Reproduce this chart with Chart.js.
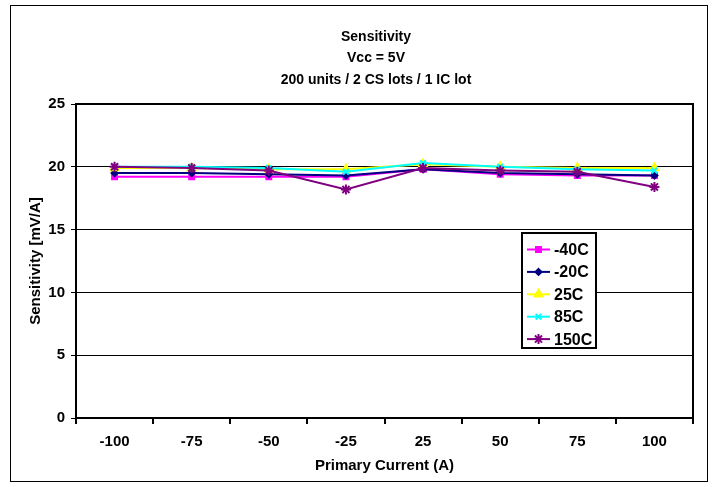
<!DOCTYPE html>
<html>
<head>
<meta charset="utf-8">
<script src="https://cdn.jsdelivr.net/npm/chart.js@4.4.0/dist/chart.umd.min.js"></script>
<style>
  html, body { margin: 0; padding: 0; background: #fff; }
</style>
</head>
<body>
<canvas id="sensChart" width="716" height="487"></canvas>
<script>
// Chart data
const categories = ['-100', '-75', '-50', '-25', '25', '50', '75', '100'];
const titleLines = ['Sensitivity', 'Vcc = 5V', '200 units / 2 CS lots / 1 IC lot'];
const yTicks = [0, 5, 10, 15, 20, 25];

const minus40C = [19.2, 19.2, 19.2, 19.2, 19.8, 19.4, 19.3, 19.3];
const minus20C = [19.5, 19.5, 19.4, 19.3, 19.8, 19.5, 19.4, 19.3];
const plus25C  = [19.9, 19.9, 19.8, 19.8, 20.2, 20.0, 19.9, 19.9];
const plus85C  = [20.0, 20.0, 19.9, 19.6, 20.3, 20.0, 19.8, 19.7];
const plus150C = [20.0, 19.9, 19.7, 18.2, 19.9, 19.7, 19.6, 18.4];

const FONT = '"Liberation Sans", Arial, sans-serif';
const axisFont = { family: FONT, size: 15, weight: 'bold' };

function series(label, values, color, style, radius, order) {
  return {
    label: label,
    data: values,
    borderColor: color,
    backgroundColor: color,
    borderWidth: 2,
    tension: 0,
    pointStyle: style,
    pointRadius: radius,
    pointBorderWidth: 2,
    pointBackgroundColor: color,
    pointBorderColor: color,
    order: order
  };
}

// Frame, titles and the in-plot legend
const decorations = {
  id: 'decorations',
  afterDraw(chart) {
    const ctx = chart.ctx;
    const a = chart.chartArea;
    ctx.save();

    // outer chart border
    ctx.strokeStyle = '#000';
    ctx.lineWidth = 1;
    ctx.strokeRect(10.5, 5.5, 697, 476);

    // plot area border
    ctx.lineWidth = 2;
    ctx.strokeRect(a.left, a.top, a.right - a.left, a.bottom - a.top);

    // titles
    ctx.fillStyle = '#000';
    ctx.font = 'bold 14px ' + FONT;
    ctx.textAlign = 'center';
    ctx.textBaseline = 'middle';
    titleLines.forEach(function(t, i) {
      ctx.fillText(t, 376, 37 + i * 21.5);
    });

    // legend box
    const lg = { x: 522, y: 233, w: 74, h: 115 };
    ctx.fillStyle = '#fff';
    ctx.fillRect(lg.x, lg.y, lg.w, lg.h);
    ctx.strokeStyle = '#000';
    ctx.lineWidth = 2;
    ctx.strokeRect(lg.x, lg.y, lg.w, lg.h);

    ctx.font = 'bold 16px ' + FONT;
    chart.data.datasets.forEach(function(ds, i) {
      const cy = lg.y + 16.5 + i * 22.4;
      ctx.strokeStyle = ds.borderColor;
      ctx.lineWidth = 2;
      ctx.beginPath();
      ctx.moveTo(527, cy);
      ctx.lineTo(550, cy);
      ctx.stroke();
      ctx.fillStyle = ds.backgroundColor;
      Chart.helpers.drawPoint(ctx, {
        pointStyle: ds.pointStyle,
        radius: ds.pointRadius,
        borderWidth: ds.pointBorderWidth,
        rotation: 0
      }, 538.5, cy);
      ctx.fillStyle = '#000';
      ctx.textAlign = 'left';
      ctx.fillText(ds.label, 554, cy + 1);
    });

    ctx.restore();
  }
};

const config = {
  type: 'line',
  data: {
    labels: categories,
    datasets: [
      series('-40C', minus40C, '#FF00FF', 'rect', 3.5, 5),
      series('-20C', minus20C, '#000080', 'rectRot', 3, 4),
      series('25C', plus25C, '#FFFF00', 'triangle', 4.5, 3),
      series('85C', plus85C, '#00FFFF', 'crossRot', 4, 2),
      series('150C', plus150C, '#800080', 'star', 5, 1)
    ]
  },
  options: {
    responsive: false,
    animation: false,
    devicePixelRatio: 1,
    layout: {
      padding: { left: 0, right: 23, top: 104, bottom: 0 }
    },
    scales: {
      x: {
        offset: true,
        grid: {
          offset: true,
          drawOnChartArea: false,
          color: '#000',
          lineWidth: 2,
          tickLength: 6
        },
        border: { display: true, color: '#000', width: 2 },
        ticks: { color: '#000', font: axisFont, padding: 9, maxRotation: 0 },
        title: {
          display: true,
          text: 'Primary Current (A)',
          color: '#000',
          font: axisFont,
          padding: { top: 0, bottom: 12 }
        },
        afterFit: function(scale) { scale.height = 69; }
      },
      y: {
        min: 0,
        max: 25,
        afterBuildTicks: function(scale) {
          scale.ticks = yTicks.map(function(v) { return { value: v }; });
        },
        grid: { color: '#000', lineWidth: 1, tickLength: 5 },
        border: { display: true, color: '#000', width: 2 },
        ticks: { color: '#000', font: axisFont, padding: 6 },
        title: {
          display: true,
          text: 'Sensitivity [mV/A]',
          color: '#000',
          font: axisFont,
          padding: { top: 27, bottom: 0 }
        },
        afterFit: function(scale) { scale.width = 76; }
      }
    },
    plugins: {
      legend: { display: false },
      title: { display: false },
      tooltip: { enabled: false }
    }
  },
  plugins: [decorations]
};

new Chart(document.getElementById('sensChart').getContext('2d'), config);
</script>
</body>
</html>
